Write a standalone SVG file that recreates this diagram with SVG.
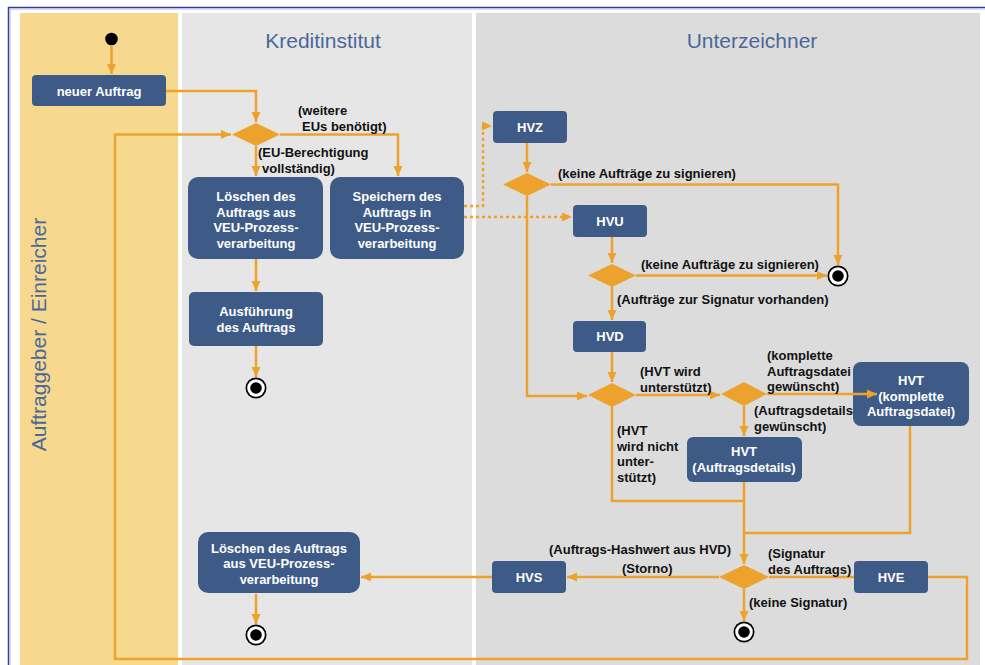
<svg xmlns="http://www.w3.org/2000/svg" width="985" height="665" viewBox="0 0 985 665">
<style>
.node{fill:#3e5b88;}
.nt{font-family:"Liberation Sans",Arial,sans-serif;font-weight:bold;font-size:13px;fill:#ffffff;text-anchor:middle;}
.lbl{font-family:"Liberation Sans",Arial,sans-serif;font-weight:bold;font-size:13px;fill:#111111;}
.title{font-family:"Liberation Sans",Arial,sans-serif;font-size:21px;fill:#4b6898;text-anchor:middle;}
.c{fill:none;stroke:#eea22e;stroke-width:2.5;marker-end:url(#ah);}
.cn{fill:none;stroke:#eea22e;stroke-width:2.5;}
.dot{fill:none;stroke:#eea22e;stroke-width:2.5;stroke-dasharray:3 3;marker-end:url(#ah);}
.dia{fill:#eea22e;}
</style>
<defs>
<marker id="ah" markerUnits="userSpaceOnUse" markerWidth="10" markerHeight="10" viewBox="0 0 10 10" refX="10" refY="5" orient="auto">
<path d="M0,0.5 L10,5 L0,9.5 Z" fill="#eea22e"/>
</marker>
<g id="endsym">
<circle r="10.5" fill="#000"/><circle r="8.8" fill="#fff"/><circle r="5.8" fill="#000"/>
</g>
</defs>
<rect width="985" height="665" fill="#ffffff"/>
<g id="lanes">
<rect x="20" y="13" width="158" height="652" fill="#f6d88e"/>
<rect x="182" y="13" width="290" height="652" fill="#e6e6e6"/>
<rect x="476" y="13" width="504" height="652" fill="#dcdcdc"/>
<line x1="8" y1="7.5" x2="985" y2="7.5" stroke="#3a3a9c" stroke-width="1.5"/>
<line x1="8" y1="9" x2="985" y2="9" stroke="#b8b8e4" stroke-width="1"/>
<line x1="8.5" y1="7" x2="8.5" y2="665" stroke="#3a3a9c" stroke-width="1.5"/>
<line x1="10" y1="9" x2="10" y2="665" stroke="#b8b8e4" stroke-width="1"/>
<text class="title" x="323" y="48">Kreditinstitut</text>
<text class="title" x="752" y="48">Unterzeichner</text>
<text class="title" transform="translate(46,334.5) rotate(-90)" x="0" y="0">Auftraggeber / Einreicher</text>
</g>
<g id="start"><circle cx="111.5" cy="39" r="6.3" fill="#000"/></g>
<g id="neuerAuftrag"><rect class="node" x="32" y="75" width="134" height="31" rx="4"/><text class="nt" x="99" y="95.5">neuer Auftrag</text></g>
<g id="d1"><polygon class="dia" points="232,134.5 256,123 280,134.5 256,146"/></g>
<g id="loeschen1"><rect class="node" x="188" y="177" width="135" height="82" rx="10"/>
<text class="nt" x="256" y="201">Löschen des</text><text class="nt" x="256" y="216.5">Auftrags aus</text><text class="nt" x="256" y="232">VEU-Prozess-</text><text class="nt" x="256" y="247.5">verarbeitung</text></g>
<g id="speichern"><rect class="node" x="330" y="177" width="134" height="82" rx="10"/>
<text class="nt" x="397" y="201">Speichern des</text><text class="nt" x="397" y="216.5">Auftrags in</text><text class="nt" x="397" y="232">VEU-Prozess-</text><text class="nt" x="397" y="247.5">verarbeitung</text></g>
<g id="ausfuehrung"><rect class="node" x="189" y="292" width="134" height="54" rx="5"/>
<text class="nt" x="256" y="316">Ausführung</text><text class="nt" x="256" y="331.5">des Auftrags</text></g>
<g id="end1"><use href="#endsym" x="256" y="388"/></g>
<g id="hvz"><rect class="node" x="493" y="111" width="74" height="32" rx="4"/><text class="nt" x="530" y="132">HVZ</text></g>
<g id="d2"><polygon class="dia" points="503,184.5 527,173 551,184.5 527,196"/></g>
<g id="hvu"><rect class="node" x="573" y="205" width="74" height="32" rx="4"/><text class="nt" x="610" y="226">HVU</text></g>
<g id="d3"><polygon class="dia" points="588,275.5 612,264 636,275.5 612,287"/></g>
<g id="end2"><use href="#endsym" x="838" y="276"/></g>
<g id="hvd"><rect class="node" x="573" y="321" width="73" height="31" rx="4"/><text class="nt" x="610" y="341">HVD</text></g>
<g id="d4"><polygon class="dia" points="588,395 612,383 636,395 612,407"/></g>
<g id="d5"><polygon class="dia" points="721,394 744,382 767,394 744,406"/></g>
<g id="hvtKomplett"><rect class="node" x="853" y="362" width="116" height="64" rx="8"/>
<text class="nt" x="911" y="385">HVT</text><text class="nt" x="911" y="400.5">(komplette</text><text class="nt" x="911" y="416">Auftragsdatei)</text></g>
<g id="hvtDetails"><rect class="node" x="687" y="437" width="115" height="45" rx="6"/>
<text class="nt" x="744" y="456">HVT</text><text class="nt" x="744" y="471.5">(Auftragsdetails)</text></g>
<g id="d6"><polygon class="dia" points="719,577 744,565 769,577 744,589"/></g>
<g id="hve"><rect class="node" x="854" y="561" width="74" height="32" rx="4"/><text class="nt" x="891" y="582">HVE</text></g>
<g id="hvs"><rect class="node" x="492" y="561" width="74" height="32" rx="4"/><text class="nt" x="529" y="582">HVS</text></g>
<g id="loeschen2"><rect class="node" x="198" y="532" width="162" height="61" rx="10"/>
<text class="nt" x="279" y="552.5">Löschen des Auftrags</text><text class="nt" x="279" y="568">aus VEU-Prozess-</text><text class="nt" x="279" y="583.5">verarbeitung</text></g>
<g id="end3"><use href="#endsym" x="256" y="635"/></g>
<g id="end4"><use href="#endsym" x="744" y="632"/></g>
<g id="connectors">
<path class="c" d="M111.5 46 V74"/>
<path class="c" d="M166 91 H256 V122"/>
<path class="c" d="M256 146 V176"/>
<path class="c" d="M280 134.5 H398 V176"/>
<path class="c" d="M256 259 V291"/>
<path class="c" d="M256 346 V377"/>
<path class="dot" d="M464 206 H483 V126 H492"/>
<path class="dot" d="M464 217 H572"/>
<path class="c" d="M527 143 V172"/>
<path class="c" d="M551 184.5 H838 V265"/>
<path class="c" d="M527 196 V396 H587"/>
<path class="c" d="M612 237 V263"/>
<path class="c" d="M636 275.5 H827"/>
<path class="c" d="M612 287 V320"/>
<path class="c" d="M612 352 V382"/>
<path class="c" d="M636 395 H720"/>
<path class="c" d="M767 394 H877"/>
<path class="c" d="M744 406 V436"/>
<path class="cn" d="M612 407 V501 H744"/>
<path class="c" d="M744 482 V564"/>
<path class="cn" d="M910 426 V533 H744"/>
<path class="c" d="M719 577 H567"/>
<path class="c" d="M492 577 H361"/>
<path class="c" d="M256 594 V624"/>
<path class="cn" d="M769 577 H854"/>
<path class="c" d="M928 577 H967 V659 H115 V134.5 H231"/>
<path class="c" d="M744 589 V621"/>
</g>
<g id="labels">
<text class="lbl" x="298" y="115">(weitere</text>
<text class="lbl" x="302" y="130.5">EUs benötigt)</text>
<text class="lbl" x="258" y="157">(EU-Berechtigung</text>
<text class="lbl" x="262" y="172.5">vollständig)</text>
<text class="lbl" x="558" y="178">(keine Aufträge zu signieren)</text>
<text class="lbl" x="641" y="269">(keine Aufträge zu signieren)</text>
<text class="lbl" x="617" y="304">(Aufträge zur Signatur vorhanden)</text>
<text class="lbl" x="640" y="376">(HVT wird</text>
<text class="lbl" x="640" y="391.5">unterstützt)</text>
<text class="lbl" x="767" y="360">(komplette</text>
<text class="lbl" x="767" y="375.5">Auftragsdatei</text>
<text class="lbl" x="767" y="391">gewünscht)</text>
<text class="lbl" x="754" y="415">(Auftragsdetails</text>
<text class="lbl" x="754" y="430.5">gewünscht)</text>
<text class="lbl" x="617" y="435">(HVT</text>
<text class="lbl" x="617" y="450.5">wird nicht</text>
<text class="lbl" x="617" y="466">unter-</text>
<text class="lbl" x="617" y="481.5">stützt)</text>
<text class="lbl" x="549" y="554">(Auftrags-Hashwert aus HVD)</text>
<text class="lbl" x="622" y="573">(Storno)</text>
<text class="lbl" x="768" y="558">(Signatur</text>
<text class="lbl" x="768" y="573.5">des Auftrags)</text>
<text class="lbl" x="749" y="607">(keine Signatur)</text>
</g>
</svg>
